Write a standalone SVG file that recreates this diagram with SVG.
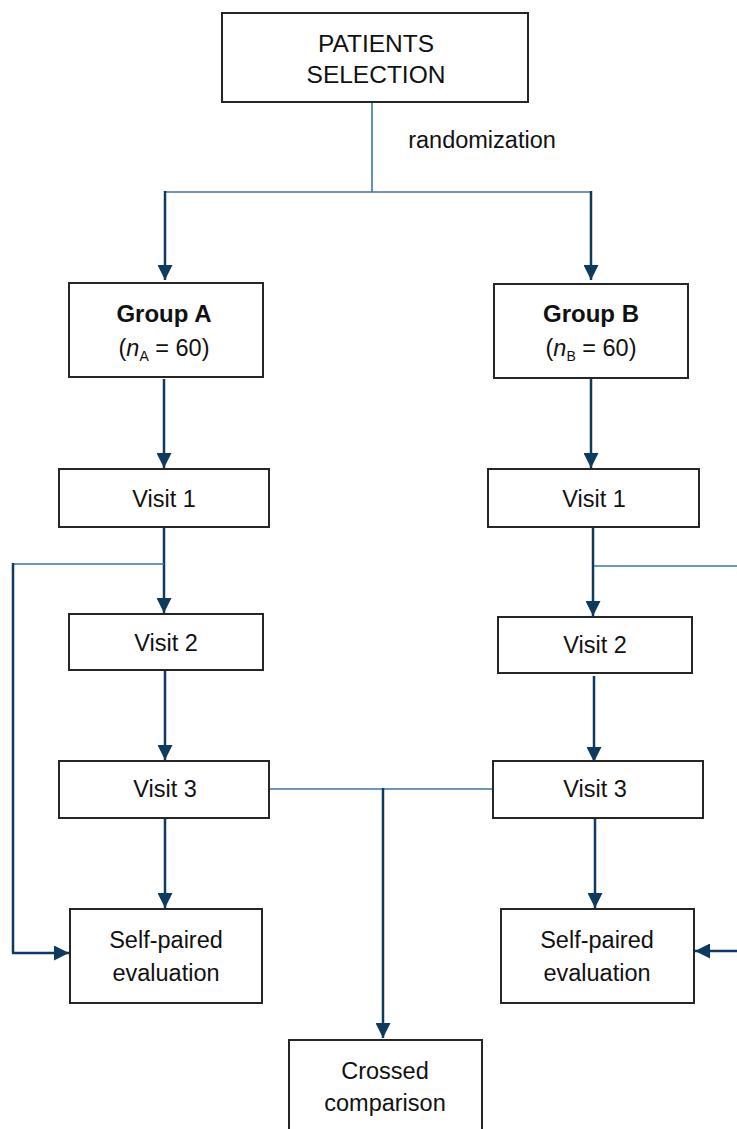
<svg xmlns="http://www.w3.org/2000/svg" width="737" height="1129" viewBox="0 0 737 1129">
<style>
.box{fill:#fff;stroke:#262626;stroke-width:2}
.t{font-family:"Liberation Sans",Arial,sans-serif;font-size:23.5px;fill:#111;text-anchor:middle}
.big{font-size:24.5px}
.b{font-weight:bold;font-size:24px}
.sub{font-size:14px}
.arr{stroke:#0d3a5e;stroke-width:2.5;fill:none}
.thin{stroke:#3a75a0;stroke-width:1.6;fill:none}
</style>
<defs>
<marker id="ah" viewBox="0 0 15 15" markerWidth="15" markerHeight="15" refX="15" refY="7.5" orient="auto" markerUnits="userSpaceOnUse">
<path d="M0,0 L15,7.5 L0,15 z" fill="#0d3a5e"/>
</marker>
</defs>
<g id="connectors">
<line class="thin" x1="372" y1="102" x2="372" y2="192"/>
<line class="thin" x1="164" y1="192" x2="592" y2="192"/>
<line class="arr" x1="165" y1="191" x2="165" y2="280" marker-end="url(#ah)"/>
<line class="arr" x1="591" y1="191" x2="591" y2="280" marker-end="url(#ah)"/>
<line class="arr" x1="164" y1="379" x2="164" y2="468" marker-end="url(#ah)"/>
<line class="arr" x1="591" y1="379" x2="591" y2="468" marker-end="url(#ah)"/>
<line class="arr" x1="164" y1="528" x2="164" y2="613" marker-end="url(#ah)"/>
<line class="thin" x1="13" y1="564" x2="164" y2="564"/>
<line class="arr" x1="13" y1="563" x2="13" y2="953"/>
<line class="arr" x1="12" y1="953" x2="69" y2="953" marker-end="url(#ah)"/>
<line class="arr" x1="593" y1="528" x2="593" y2="616" marker-end="url(#ah)"/>
<line class="thin" x1="594" y1="566" x2="737" y2="566"/>
<line class="arr" x1="165" y1="671" x2="165" y2="760" marker-end="url(#ah)"/>
<line class="arr" x1="594" y1="676" x2="594" y2="762" marker-end="url(#ah)"/>
<line class="thin" x1="269" y1="789" x2="493" y2="789"/>
<line class="arr" x1="383" y1="788" x2="383" y2="1038" marker-end="url(#ah)"/>
<line class="arr" x1="165" y1="819" x2="165" y2="908" marker-end="url(#ah)"/>
<line class="arr" x1="595" y1="819" x2="595" y2="908" marker-end="url(#ah)"/>
<line class="arr" x1="738" y1="951" x2="695" y2="951" marker-end="url(#ah)"/>
</g>
<text class="t" x="482" y="148">randomization</text>
<g id="patients"><rect class="box" x="222" y="13" width="306" height="89"/>
<text class="t big" x="376" y="52">PATIENTS</text><text class="t big" x="376" y="83">SELECTION</text></g>
<g id="groupA"><rect class="box" x="69" y="283" width="194" height="94"/>
<text class="t b" x="164" y="322">Group A</text>
<text class="t" x="164" y="356">(<tspan font-style="italic">n</tspan><tspan class="sub" dy="5">A</tspan><tspan dy="-5"> = 60)</tspan></text></g>
<g id="groupB"><rect class="box" x="494" y="284" width="194" height="94"/>
<text class="t b" x="591" y="322">Group B</text>
<text class="t" x="591" y="356">(<tspan font-style="italic">n</tspan><tspan class="sub" dy="5">B</tspan><tspan dy="-5"> = 60)</tspan></text></g>
<g id="visit1A"><rect class="box" x="59" y="469" width="210" height="58"/><text class="t" x="164" y="507">Visit 1</text></g>
<g id="visit1B"><rect class="box" x="488" y="469" width="211" height="58"/><text class="t" x="594" y="507">Visit 1</text></g>
<g id="visit2A"><rect class="box" x="69" y="614" width="194" height="56"/><text class="t" x="166" y="651">Visit 2</text></g>
<g id="visit2B"><rect class="box" x="498" y="617" width="194" height="56"/><text class="t" x="595" y="653">Visit 2</text></g>
<g id="visit3A"><rect class="box" x="59" y="761" width="210" height="57"/><text class="t" x="165" y="797">Visit 3</text></g>
<g id="visit3B"><rect class="box" x="493" y="761" width="210" height="57"/><text class="t" x="595" y="797">Visit 3</text></g>
<g id="selfA"><rect class="box" x="70" y="909" width="192" height="94"/>
<text class="t" x="166" y="948">Self-paired</text><text class="t" x="166" y="981">evaluation</text></g>
<g id="selfB"><rect class="box" x="501" y="909" width="193" height="94"/>
<text class="t" x="597" y="948">Self-paired</text><text class="t" x="597" y="981">evaluation</text></g>
<g id="crossed"><rect class="box" x="289" y="1040" width="193" height="100"/>
<text class="t" x="385" y="1079">Crossed</text><text class="t" x="385" y="1111">comparison</text></g>
</svg>
